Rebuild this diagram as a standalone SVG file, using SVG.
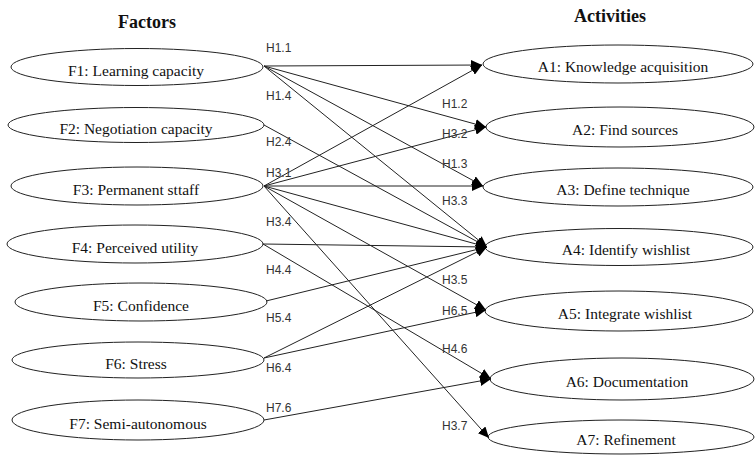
<svg xmlns="http://www.w3.org/2000/svg" width="755" height="456" viewBox="0 0 755 456">
<style>
.bg{fill:#fff}
.node ellipse{fill:#fff;stroke:#222;stroke-width:1}
.node text{font-family:"Liberation Serif","Times New Roman",serif;font-size:15.5px;fill:#111;text-anchor:middle}
.title{font-family:"Liberation Serif","Times New Roman",serif;font-size:18px;font-weight:bold;fill:#111;text-anchor:middle}
.edges line{stroke:#222;stroke-width:1;marker-end:url(#arr)}
.lbl{font-family:"Liberation Sans",Arial,sans-serif;font-size:12px;fill:#333}
</style>
<defs>
<marker id="arr" markerUnits="userSpaceOnUse" markerWidth="11" markerHeight="10" refX="11" refY="5" orient="auto">
<path d="M0,0 L11,5 L0,10 z" fill="#000"/>
</marker>
</defs>
<rect class="bg" x="0" y="0" width="755" height="456"/>
<text class="title" x="147" y="28">Factors</text>
<text class="title" x="610" y="22">Activities</text>

<g id="F1" class="node"><ellipse cx="137" cy="67" rx="126" ry="18.5"/><text x="136" y="76">F1: Learning capacity</text></g>
<g id="F2" class="node"><ellipse cx="136" cy="125" rx="128" ry="17.5"/><text x="136" y="134">F2: Negotiation capacity</text></g>
<g id="F3" class="node"><ellipse cx="137" cy="186" rx="126" ry="19"/><text x="136" y="195">F3: Permanent sttaff</text></g>
<g id="F4" class="node"><ellipse cx="135" cy="244" rx="128" ry="19"/><text x="135" y="253">F4: Perceived utility</text></g>
<g id="F5" class="node"><ellipse cx="141" cy="302" rx="126" ry="19"/><text x="141" y="311">F5: Confidence</text></g>
<g id="F6" class="node"><ellipse cx="138" cy="360" rx="126" ry="18"/><text x="136" y="369">F6: Stress</text></g>
<g id="F7" class="node"><ellipse cx="138" cy="420" rx="126" ry="20"/><text x="138" y="429">F7: Semi-autonomous</text></g>

<g id="A1" class="node"><ellipse cx="618" cy="64" rx="135" ry="19"/><text x="623" y="72">A1: Knowledge acquisition</text></g>
<g id="A2" class="node"><ellipse cx="620" cy="127" rx="134" ry="20"/><text x="625" y="135">A2: Find sources</text></g>
<g id="A3" class="node"><ellipse cx="618" cy="187" rx="135" ry="19"/><text x="623" y="195">A3: Define technique</text></g>
<g id="A4" class="node"><ellipse cx="619" cy="247" rx="134" ry="18.5"/><text x="626" y="255">A4: Identify wishlist</text></g>
<g id="A5" class="node"><ellipse cx="619" cy="311" rx="134" ry="20"/><text x="625" y="319">A5: Integrate wishlist</text></g>
<g id="A6" class="node"><ellipse cx="622" cy="379" rx="132" ry="21"/><text x="627" y="387">A6: Documentation</text></g>
<g id="A7" class="node"><ellipse cx="621" cy="437" rx="133" ry="17"/><text x="626" y="445">A7: Refinement</text></g>

<g id="edges" class="edges">
<line x1="264" y1="66" x2="482" y2="65"/>
<line x1="264" y1="66" x2="486" y2="127"/>
<line x1="264" y1="66" x2="483" y2="186"/>
<line x1="264" y1="66" x2="487" y2="247"/>
<line x1="264" y1="125" x2="487" y2="247"/>
<line x1="264" y1="186" x2="482" y2="65"/>
<line x1="264" y1="186" x2="486" y2="127"/>
<line x1="264" y1="186" x2="483" y2="186"/>
<line x1="264" y1="186" x2="487" y2="247"/>
<line x1="264" y1="186" x2="486" y2="310"/>
<line x1="264" y1="186" x2="489" y2="438"/>
<line x1="263" y1="244" x2="487" y2="247"/>
<line x1="263" y1="244" x2="491" y2="379"/>
<line x1="266" y1="301" x2="487" y2="247"/>
<line x1="264" y1="358" x2="487" y2="247"/>
<line x1="264" y1="358" x2="486" y2="310"/>
<line x1="264" y1="420" x2="491" y2="379"/>
</g>

<g id="labels">
<text class="lbl" x="266" y="52">H1.1</text>
<text class="lbl" x="266" y="100">H1.4</text>
<text class="lbl" x="266" y="146">H2.4</text>
<text class="lbl" x="266" y="177">H3.1</text>
<text class="lbl" x="266" y="226">H3.4</text>
<text class="lbl" x="266" y="274">H4.4</text>
<text class="lbl" x="266" y="322">H5.4</text>
<text class="lbl" x="266" y="372">H6.4</text>
<text class="lbl" x="266" y="412">H7.6</text>
<text class="lbl" x="442" y="108">H1.2</text>
<text class="lbl" x="442" y="138">H3.2</text>
<text class="lbl" x="442" y="168">H1.3</text>
<text class="lbl" x="442" y="205">H3.3</text>
<text class="lbl" x="442" y="284">H3.5</text>
<text class="lbl" x="442" y="315">H6.5</text>
<text class="lbl" x="442" y="353">H4.6</text>
<text class="lbl" x="442" y="430">H3.7</text>
</g>
</svg>
